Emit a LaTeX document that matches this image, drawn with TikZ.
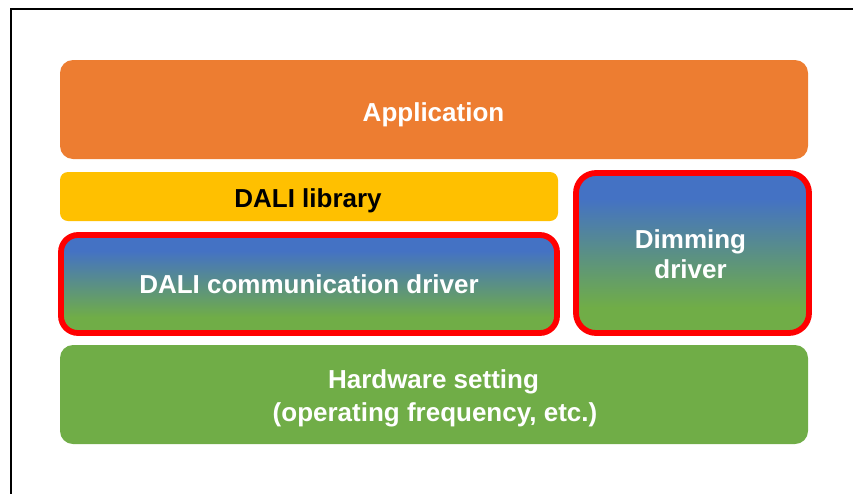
\documentclass[tikz,border=0pt]{standalone}
\usepackage{fontspec}
\setmainfont{Liberation Sans}

\definecolor{apporange}{HTML}{ED7D31}
\definecolor{libyellow}{HTML}{FFC000}
\definecolor{layerblue}{HTML}{4472C4}
\definecolor{layergreen}{HTML}{70AD47}
\definecolor{edgered}{HTML}{FF0000}

% blue on top fading into green at the bottom
\pgfdeclareverticalshading{bluegreen}{100bp}{%
  color(0bp)=(layergreen); color(33bp)=(layergreen);
  color(67bp)=(layerblue); color(100bp)=(layerblue)}

\begin{document}
\begin{tikzpicture}[x=1pt,y=-1pt,
  layer/.style={rectangle, inner sep=0pt, outer sep=0pt},
  driverbox/.style={layer, shading=bluegreen, draw=edgered, line width=5.8pt},
  txt/.style={font=\fontsize{26}{30}\selectfont\bfseries, text=white,
              inner sep=0pt, anchor=base}]
\useasboundingbox (0,0) rectangle (853,493);
\clip (0,0) rectangle (853,493);

% outer frame
\draw[line width=2.3pt] (11,9) rectangle (900,540);

% layers
\node[layer, fill=apporange, rounded corners=13pt,
      minimum width=748pt, minimum height=99pt] (app) at (434,109.5) {};
\node[layer, fill=libyellow, rounded corners=8pt,
      minimum width=498pt, minimum height=49pt] (lib) at (309,196.5) {};
\node[driverbox, rounded corners=17pt,
      minimum width=496pt, minimum height=98pt] (comm) at (309,284) {};
\node[driverbox, rounded corners=20pt,
      minimum width=233pt, minimum height=160pt] (dim) at (692.5,253) {};
\node[layer, fill=layergreen, rounded corners=13pt,
      minimum width=748pt, minimum height=99pt] (hw) at (434,394.5) {};

% labels
\node[txt] (apptext) at (433.5,121) {Application};
\node[txt, text=black] (libtext) at (308,207.3) {DALI library};
\node[txt] (commtext) at (309,293.3) {DALI communication driver};
\node[txt] (dimtexta) at (690.5,248.3) {Dimming};
\node[txt] (dimtextb) at (690.5,278.3) {driver};
\node[txt] (hwtexta) at (433.5,388.3) {Hardware setting};
\node[txt] (hwtextb) at (435,421.7) {(operating frequency, etc.)};
\end{tikzpicture}
\end{document}
